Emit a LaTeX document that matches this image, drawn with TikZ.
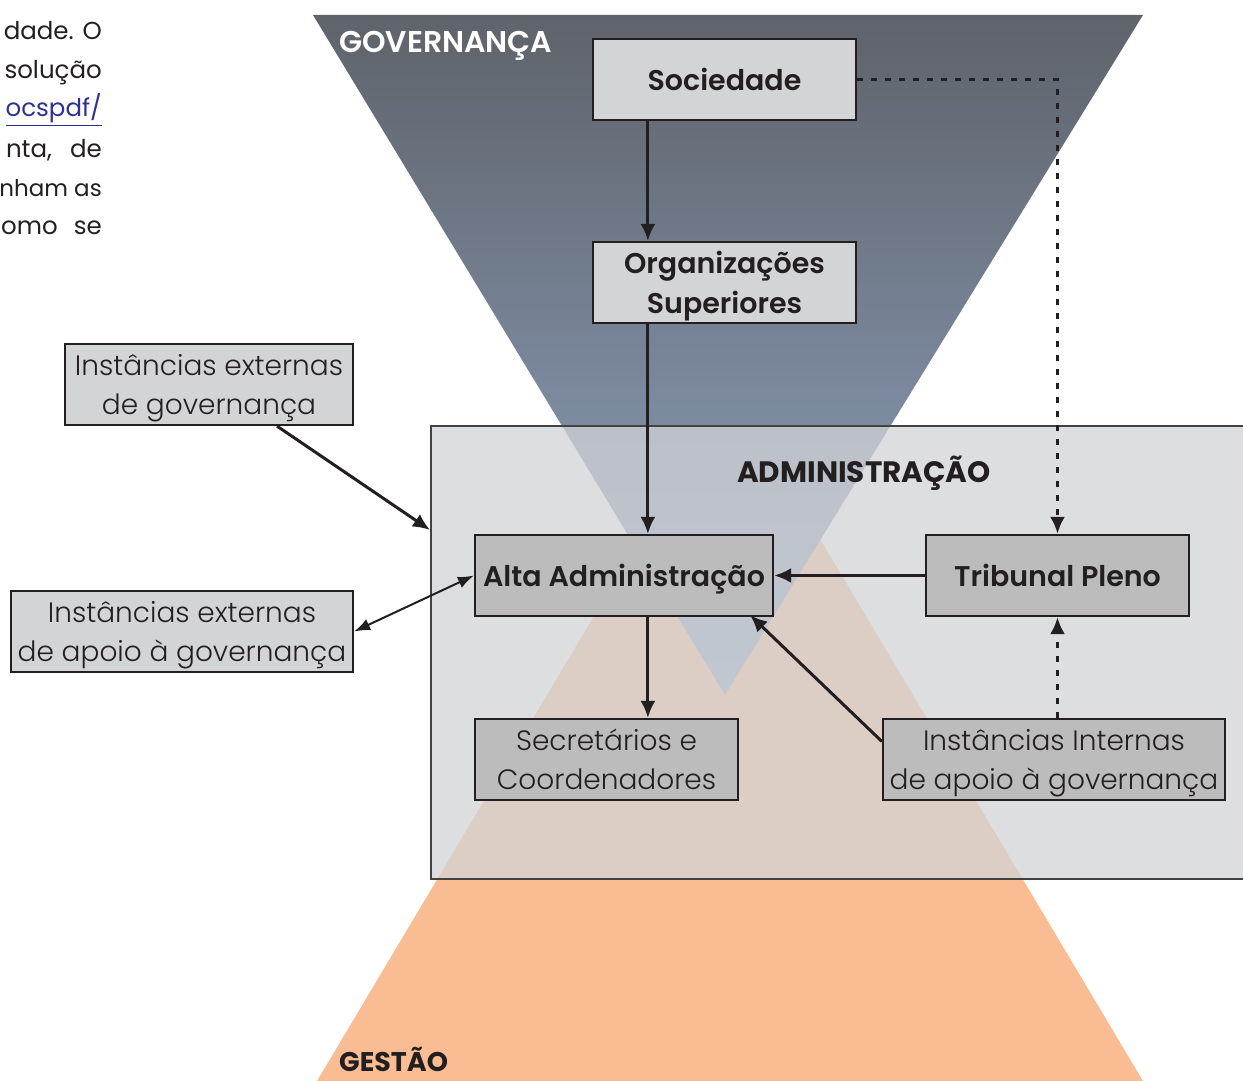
\documentclass[tikz,border=0pt]{standalone}
\usepackage{fontspec}
\setmainfont{Poppins}[UprightFont=* Light, BoldFont=* SemiBold]
\newfontfamily\regfont{Poppins}
\newfontfamily\boldfont{Poppins}[UprightFont=* SemiBold]
\usetikzlibrary{arrows.meta,calc}
\definecolor{ink}{RGB}{35,31,32}
\definecolor{lightbox}{RGB}{211,212,214}
\definecolor{darkbox}{RGB}{188,188,188}
\definecolor{govtop}{RGB}{95,99,106}
\definecolor{govbot}{RGB}{145,166,198}
\definecolor{gestao}{RGB}{250,188,147}
\definecolor{adminfill}{RGB}{210,211,214}
\definecolor{linkblue}{RGB}{46,49,146}
\tikzset{
  lbox/.style={draw=ink, line width=2.2pt, fill=lightbox, text=ink, align=center, inner sep=0pt, text depth=0pt},
  dbox/.style={draw=ink, line width=2.2pt, fill=darkbox, text=ink, align=center, inner sep=0pt, text depth=0pt},
  boldtxt/.style={font=\boldfont\fontsize{28.5}{40}\selectfont},
  lighttxt/.style={font=\fontsize{28}{39}\selectfont},
  arr/.style={draw=ink, line width=3pt, -{Latex[length=17pt,width=15pt]}},
  thinarr/.style={draw=ink, line width=2pt, {Latex[length=16pt,width=12pt]}-{Latex[length=16pt,width=12pt]}},
  dotarr/.style={draw=ink, line width=3.5pt, dash pattern=on 6pt off 8pt, -{Latex[length=17pt,width=15pt]}},
  para/.style={anchor=base east, inner sep=0pt, font=\regfont\fontsize{24.5}{30}\selectfont, text=ink}
}
\begin{document}
\begin{tikzpicture}[x=1pt,y=-1pt]
\useasboundingbox (0,0) rectangle (1243,1081);
% gestao triangle
\fill[gestao] (317,1081) -- (730,388) -- (1143,1081) -- cycle;
% governanca triangle
\shade[top color=govtop, bottom color=govbot] (313,15) -- (1143,15) -- (725,695) -- cycle;
% administracao box
\node[draw=ink!85, line width=1.6pt, fill=adminfill, fill opacity=0.75, draw opacity=1, minimum width=830pt, minimum height=453pt, inner sep=0pt, anchor=north west] (admin) at (430,425) {};
% labels
\node[anchor=base west, inner sep=0pt, text=white, font=\boldfont\fontsize{30}{34}\selectfont] (lgov) at (339,53) {GOVERNANÇA};
\node[anchor=base, inner sep=0pt, text=ink, font=\regfont\bfseries\fontsize{29.5}{34}\selectfont] (ladm) at (864,482) {ADMINISTRAÇÃO};
\node[anchor=base west, inner sep=0pt, text depth=0pt, text=ink, font=\regfont\bfseries\fontsize{27}{32}\selectfont] (lges) at (339,1071) {GESTÃO};
% boxes
\node[lbox, boldtxt, minimum width=263pt, minimum height=81pt] (soc) at (724.5,79.5) {Sociedade};
\node[lbox, boldtxt, minimum width=263pt, minimum height=81pt] (org) at (724.5,282.5) {Organizações\\Superiores};
\node[lbox, lighttxt, minimum width=288pt, minimum height=81pt] (ext1) at (209,384.5) {Instâncias externas\\de governança};
\node[lbox, lighttxt, minimum width=342pt, minimum height=81pt] (ext2) at (182,631.5) {Instâncias externas\\de apoio à governança};
\node[dbox, boldtxt, minimum width=298pt, minimum height=81pt] (alta) at (624,575.5) {Alta Administração};
\node[dbox, boldtxt, minimum width=263pt, minimum height=81pt] (trib) at (1057.5,575.5) {Tribunal Pleno};
\node[dbox, lighttxt, minimum width=263pt, minimum height=81pt] (sec) at (606.5,759.5) {Secretários e\\Coordenadores};
\node[dbox, lighttxt, minimum width=342pt, minimum height=81pt] (int) at (1054,759.5) {Instâncias Internas\\de apoio à governança};
% connectors
\draw[arr] ([xshift=56pt]soc.south west) -- ([xshift=56pt]org.north west);
\draw[arr] ([xshift=56pt]org.south west) -- ([xshift=56pt]org.south west |- alta.north);
\draw[dotarr] (soc.east) -| (trib.north);
\draw[arr] ([xshift=68pt]ext1.south) -- ($(admin.north west)+(0,105)$);
\draw[thinarr] (ext2.east) -- (alta.west);
\draw[arr] (trib.west) -- (alta.east);
\draw[arr] ([xshift=174pt]alta.south west) -- ([xshift=174pt]alta.south west |- sec.north);
\draw[arr] ([yshift=18pt]int.west) -- ([xshift=-24pt,yshift=2pt]alta.south east);
\draw[dotarr] (int.north -| trib.south) -- (trib.south);
% paragraph fragments (cut by the page edge in the source)
\node[para] (p1) at (102,40) {dade. O};
\node[para] (p2) at (102,79) {solução};
\node[para, text=linkblue] (p3) at (102,117) {\underline{ocspdf/}};
\node[para] (p4) at (102,157) {nta,\hspace{18pt}de};
\node[para] (p5) at (102,196) {\fontsize{23}{30}\selectfont nham as};
\node[para] (p6) at (102,234) {omo\hspace{16pt}se};
\end{tikzpicture}
\end{document}
